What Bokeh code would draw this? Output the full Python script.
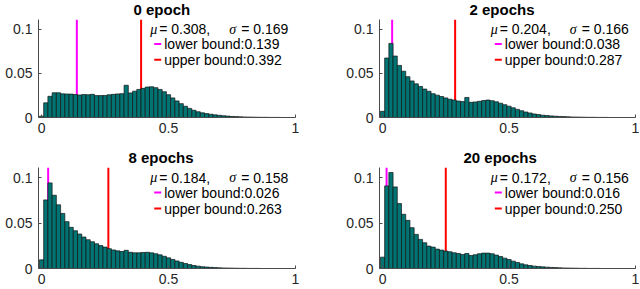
import numpy as np
from bokeh.plotting import figure
from bokeh.models import Range1d, Label, FixedTicker
from bokeh.layouts import column, row
from bokeh.embed import file_html
from bokeh.resources import INLINE

# ---------------- data ----------------
bin_width = 1 / 60
titles = ["0 epoch", "2 epochs", "8 epochs", "20 epochs"]
mu = [0.308, 0.204, 0.184, 0.172]
sigma = [0.169, 0.166, 0.158, 0.156]
lower_bound = [0.139, 0.038, 0.026, 0.016]
upper_bound = [0.392, 0.287, 0.263, 0.250]

hist_0 = [0.0015, 0.0166, 0.0240, 0.0280, 0.0280, 0.0268, 0.0266, 0.0265, 0.0260, 0.0255,
          0.0260, 0.0258, 0.0262, 0.0248, 0.0248, 0.0250, 0.0257, 0.0262, 0.0267, 0.0270,
          0.0365, 0.0278, 0.0298, 0.0318, 0.0330, 0.0345, 0.0348, 0.0338, 0.0318, 0.0292,
          0.0258, 0.0222, 0.0188, 0.0157, 0.0127, 0.0103, 0.0082, 0.0065, 0.0053, 0.0044,
          0.0037, 0.0030, 0.0025, 0.0020, 0.0016, 0.0012, 0.0010, 0.0008, 0.0006, 0.0005,
          0.0004, 0.0003, 0.0002, 0.0002, 0.0001, 0.0001, 0.0001, 0.0, 0.0, 0.0, 0.0]
hist_2 = [0.0070, 0.0674, 0.0839, 0.0696, 0.0590, 0.0524, 0.0462, 0.0414, 0.0381, 0.0352,
          0.0322, 0.0297, 0.0270, 0.0253, 0.0238, 0.0222, 0.0207, 0.0198, 0.0186, 0.0180,
          0.0227, 0.0172, 0.0176, 0.0183, 0.0192, 0.0198, 0.0190, 0.0178, 0.0162, 0.0145,
          0.0128, 0.0110, 0.0092, 0.0077, 0.0062, 0.0051, 0.0040, 0.0033, 0.0026, 0.0022,
          0.0018, 0.0015, 0.0012, 0.0010, 0.0008, 0.0006, 0.0005, 0.0004, 0.0003, 0.0002,
          0.0002, 0.0001, 0.0001, 0.0001, 0.0, 0.0, 0.0, 0.0, 0.0, 0.0, 0.0]
hist_8 = [0.0095, 0.0754, 0.0941, 0.0805, 0.0700, 0.0605, 0.0515, 0.0452, 0.0415, 0.0379,
          0.0346, 0.0316, 0.0294, 0.0272, 0.0252, 0.0235, 0.0218, 0.0204, 0.0194, 0.0187,
          0.0200, 0.0178, 0.0172, 0.0172, 0.0176, 0.0178, 0.0172, 0.0162, 0.0150, 0.0134,
          0.0117, 0.0100, 0.0083, 0.0068, 0.0055, 0.0043, 0.0033, 0.0026, 0.0020, 0.0016,
          0.0013, 0.0010, 0.0008, 0.0006, 0.0005, 0.0004, 0.0003, 0.0002, 0.0002, 0.0001,
          0.0001, 0.0001, 0.0, 0.0, 0.0, 0.0, 0.0, 0.0, 0.0, 0.0, 0.0]
hist_20 = [0.0125, 0.0908, 0.1055, 0.0897, 0.0713, 0.0596, 0.0529, 0.0449, 0.0375, 0.0320,
           0.0283, 0.0246, 0.0235, 0.0213, 0.0202, 0.0191, 0.0184, 0.0173, 0.0165, 0.0154,
           0.0165, 0.0143, 0.0151, 0.0162, 0.0169, 0.0169, 0.0162, 0.0147, 0.0132, 0.0114,
           0.0099, 0.0081, 0.0066, 0.0051, 0.0040, 0.0033, 0.0026, 0.0022, 0.0018, 0.0015,
           0.0012, 0.0010, 0.0008, 0.0006, 0.0005, 0.0004, 0.0003, 0.0002, 0.0002, 0.0001,
           0.0001, 0.0001, 0.0, 0.0, 0.0, 0.0, 0.0, 0.0, 0.0, 0.0, 0.0]
histograms = [hist_0, hist_2, hist_8, hist_20]

x_ticks = [0, 0.5, 1]
x_tick_labels = ["0", "0.5", "1"]
y_ticks = [0, 0.05, 0.1]
y_tick_labels = ["0", "0.05", "0.1"]

# ---------------- style / layout ----------------
X_MIN, X_MAX = -0.012, 1.0
Y_MAX = 0.111
FONT = "Liberation Sans"
BAR_FILL = "#007373"
BAR_LINE = "#141414"
AXIS_COLOR = "#4a4a4a"
TEXT_COLOR = "#262626"

# (fig_w, fig_h, left, right, top, bottom, title_offset) in px
layout_spec = [
    (320, 144, 38, 25, 17, 27, 95),
    (320, 144, 59, 5, 17, 27, 90),
    (320, 145, 38, 25, 23, 21, 90),
    (320, 145, 59, 5, 23, 21, 84),
]


def make_panel(i):
    fw, fh, bl, br, bt, bb, t_off = layout_spec[i]
    frame_w = fw - bl - br
    frame_h = fh - bt - bb
    ppx = frame_w / (X_MAX - X_MIN)
    ppy = frame_h / Y_MAX

    p = figure(width=fw, height=fh, output_backend="svg", toolbar_location=None,
               x_range=Range1d(X_MIN, X_MAX), y_range=Range1d(0, Y_MAX),
               min_border_left=bl, min_border_right=br,
               min_border_top=bt, min_border_bottom=bb)
    p.outline_line_color = None
    p.xgrid.visible = False
    p.ygrid.visible = False
    p.background_fill_color = "white"
    p.border_fill_color = "white"

    # title
    p.title.text = titles[i]
    p.title.align = "left"
    p.title.vertical_align = "top"
    p.title.text_font = FONT
    p.title.text_font_size = "15px"
    p.title.text_font_style = "bold"
    p.title.text_color = "black"
    p.title.standoff = 0
    p.title.offset = t_off

    # bound lines (behind the bars)
    p.segment(x0=[lower_bound[i]], y0=[0], x1=[lower_bound[i]], y1=[Y_MAX],
              line_color="#ff00ff", line_width=2)
    p.segment(x0=[upper_bound[i]], y0=[0], x1=[upper_bound[i]], y1=[Y_MAX],
              line_color="#ff0000", line_width=2)

    heights = histograms[i]
    centers = np.arange(len(heights)) * bin_width
    p.vbar(x=centers, width=bin_width, top=heights, bottom=0,
           fill_color=BAR_FILL, line_color=BAR_LINE, line_width=0.7)

    # axes
    p.xaxis.ticker = FixedTicker(ticks=x_ticks)
    p.xaxis.major_label_overrides = dict(zip(x_ticks, x_tick_labels))
    p.yaxis.ticker = FixedTicker(ticks=y_ticks)
    p.yaxis.major_label_overrides = dict(zip(y_ticks, y_tick_labels))
    for ax in (p.xaxis[0], p.yaxis[0]):
        ax.major_tick_in = 3
        ax.major_tick_out = 0
        ax.minor_tick_in = 0
        ax.minor_tick_out = 0
        ax.axis_line_color = AXIS_COLOR
        ax.major_tick_line_color = AXIS_COLOR
        ax.major_label_text_font = FONT
        ax.major_label_text_font_size = "14px"
        ax.major_label_text_color = TEXT_COLOR
    p.xaxis.major_label_standoff = 5
    p.yaxis.major_label_standoff = 6

    # annotation block
    ax0 = 0.428
    row_d = [10, 25, 41]
    ys = [Y_MAX - d / ppy for d in row_d]
    pieces = [("\u03bc", 0, True), (f"= {mu[i]:.3f},", 9, False),
              ("\u03c3", 79, True), (f"= {sigma[i]:.3f}", 91, False)]
    for txt, off, ital in pieces:
        p.add_layout(Label(x=ax0, y=ys[0], x_offset=off, text=txt,
                           text_align="left", text_baseline="middle",
                           text_font="Liberation Serif" if ital else FONT,
                           text_font_style="italic" if ital else "normal",
                           text_font_size="14px",
                           text_color="black"))
    legend_rows = [(f"lower bound:{lower_bound[i]:.3f}", "#ff00ff", ys[1]),
                   (f"upper bound:{upper_bound[i]:.3f}", "#ff0000", ys[2])]
    for txt, col, yy in legend_rows:
        p.segment(x0=[ax0 + 4 / ppx], y0=[yy], x1=[ax0 + 11 / ppx], y1=[yy],
                  line_color=col, line_width=2)
        p.add_layout(Label(x=ax0, y=yy, x_offset=14, text=txt,
                           text_align="left", text_baseline="middle",
                           text_font=FONT, text_font_size="14px",
                           text_color="black"))
    return p


panels = [make_panel(i) for i in range(4)]
layout = column(row(panels[0], panels[1]), row(panels[2], panels[3]))

open("out.html", "w").write(file_html(layout, INLINE))
